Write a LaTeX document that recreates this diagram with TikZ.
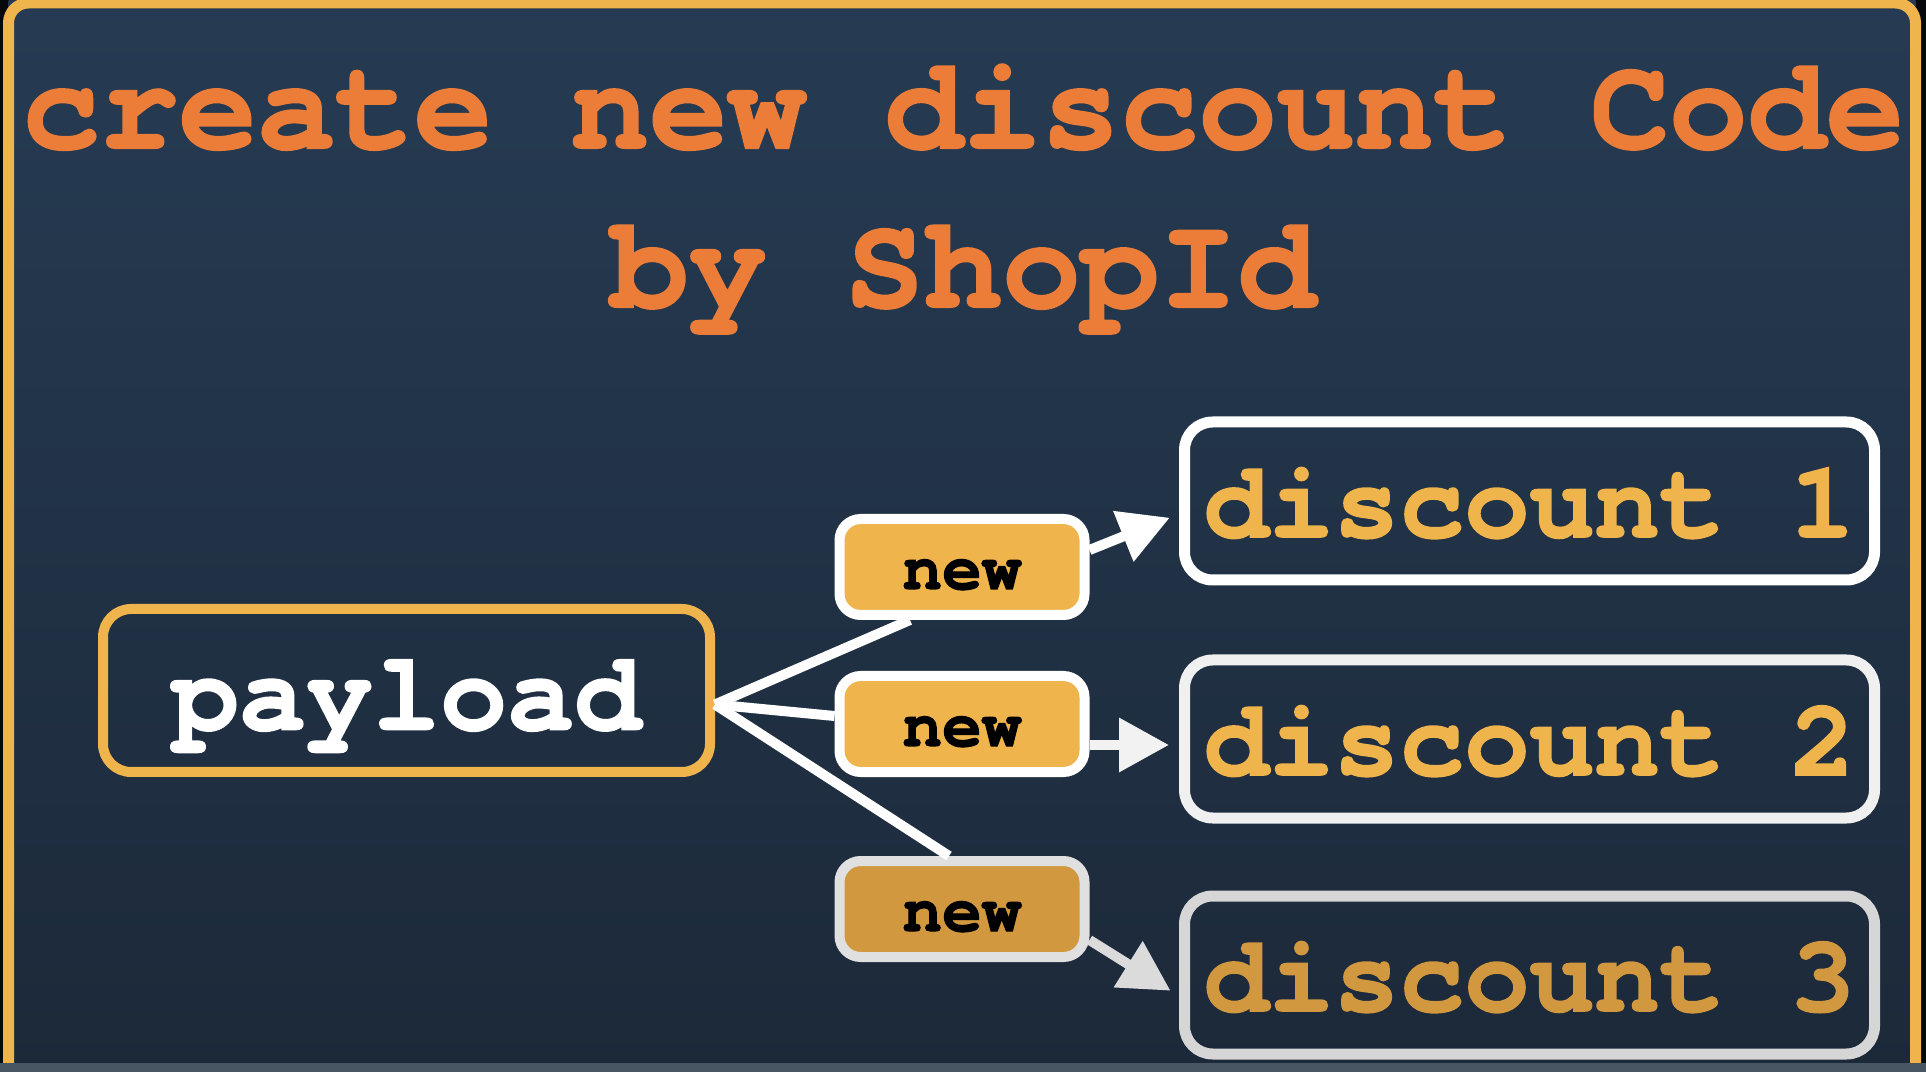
\documentclass[tikz,border=0pt]{standalone}
\usepackage{fontspec}
\newfontfamily\codefont{texgyrecursor}[Extension=.otf, UprightFont=*-regular, BoldFont=*-bold, BoldFeatures={FakeBold=1.6}]
\usepackage{tikz}
\usetikzlibrary{arrows.meta, positioning, calc}
\definecolor{bgTop}{RGB}{38, 59, 83}
\definecolor{bgBot}{RGB}{28, 41, 57}
\definecolor{frameGold}{RGB}{240, 180, 76}
\definecolor{goldDark}{RGB}{210, 152, 63}
\definecolor{titleOrange}{RGB}{236, 125, 56}
\definecolor{barGray}{RGB}{72, 85, 98}

\begin{document}
\begin{tikzpicture}[every node/.style={font=\codefont\bfseries},
    title/.style={anchor=base, text=titleOrange, font=\codefont\bfseries\fontsize{37.2}{38}\selectfont},
    srcbox/.style={draw=frameGold, line width=1mm, rounded corners=8pt, minimum width=6.07cm, minimum height=1.63cm,
      inner sep=0pt, text height=0.78cm, text depth=0pt, text=white, font=\codefont\bfseries\fontsize{31.8}{32}\selectfont},
    newbox/.style={draw=white, line width=1mm, fill=frameGold, rounded corners=6pt, minimum width=2.45cm, minimum height=0.96cm,
      inner sep=0pt, text height=0.44cm, text depth=0pt, text=black, font=\codefont\bfseries\fontsize{18.8}{19}\selectfont},
    discbox/.style={draw=white, line width=1.1mm, rounded corners=8pt, minimum width=6.9cm, minimum height=1.58cm,
      inner sep=0pt, text height=0.72cm, text depth=0pt, text=frameGold, font=\codefont\bfseries\fontsize{30.9}{31}\selectfont},
    link/.style={white, line width=1mm},
    arr/.style={white, line width=1mm, shorten >=1mm, -{Triangle[length=5mm, width=5.2mm]}}]
    \useasboundingbox (0,0) rectangle (19.26,-10.72);
    % Background and frame
    \fill[black!80!bgBot] (0,0) rectangle (19.26,-10.72);
    \shade[top color=bgTop, bottom color=bgBot] (0.085,0) rectangle (19.155,-10.72);
    \draw[frameGold, line width=1.1mm, rounded corners=0.2cm] (0.085,-11) |- (19.155,-0.03) -- (19.155,-11);
    \fill[barGray] (0,-10.63) rectangle (19.26,-10.72);
    % Title
    \node[title] (t1) at (9.63,-1.48) {create new discount Code};
    \node[title] (t2) at (9.63,-3.07) {by ShopId};
    % Source
    \node[srcbox] (payload) at (4.065,-6.905) {payload};
    \coordinate (fan) at ([yshift=-0.14cm]payload.east);
    % New boxes
    \node[newbox] (new1) at (9.62,-5.67) {new};
    \node[newbox] (new2) at (9.62,-7.24) {new};
    \node[newbox, fill=goldDark, draw=white!88!black] (new3) at (9.62,-9.09) {new};
    % Discounts
    \node[discbox] (d1) at (15.295,-5.01) {discount 1};
    \node[discbox, draw=white!94!black] (d2) at (15.295,-7.39) {discount 2};
    \node[discbox, draw=white!84!black, text=goldDark] (d3) at (15.295,-9.75) {discount 3};
    % Fan out
    \draw[link] (fan) -- ([xshift=-0.52cm]new1.south);
    \draw[link] (fan) -- ([yshift=0.08cm]new2.west);
    \draw[link] (fan) -- ([xshift=-0.13cm]new3.north);
    % Arrows
    \draw[arr] ([yshift=0.17cm]new1.east) -- ([yshift=-0.13cm]d1.west);
    \draw[arr, white!95!black] ([yshift=-0.06cm]new2.east |- d2.west) -- ([yshift=-0.06cm]d2.west);
    \draw[arr, white!86!black] ([yshift=-0.31cm]new3.east) -- ([yshift=-0.21cm]d3.west);
\end{tikzpicture}
\end{document}
